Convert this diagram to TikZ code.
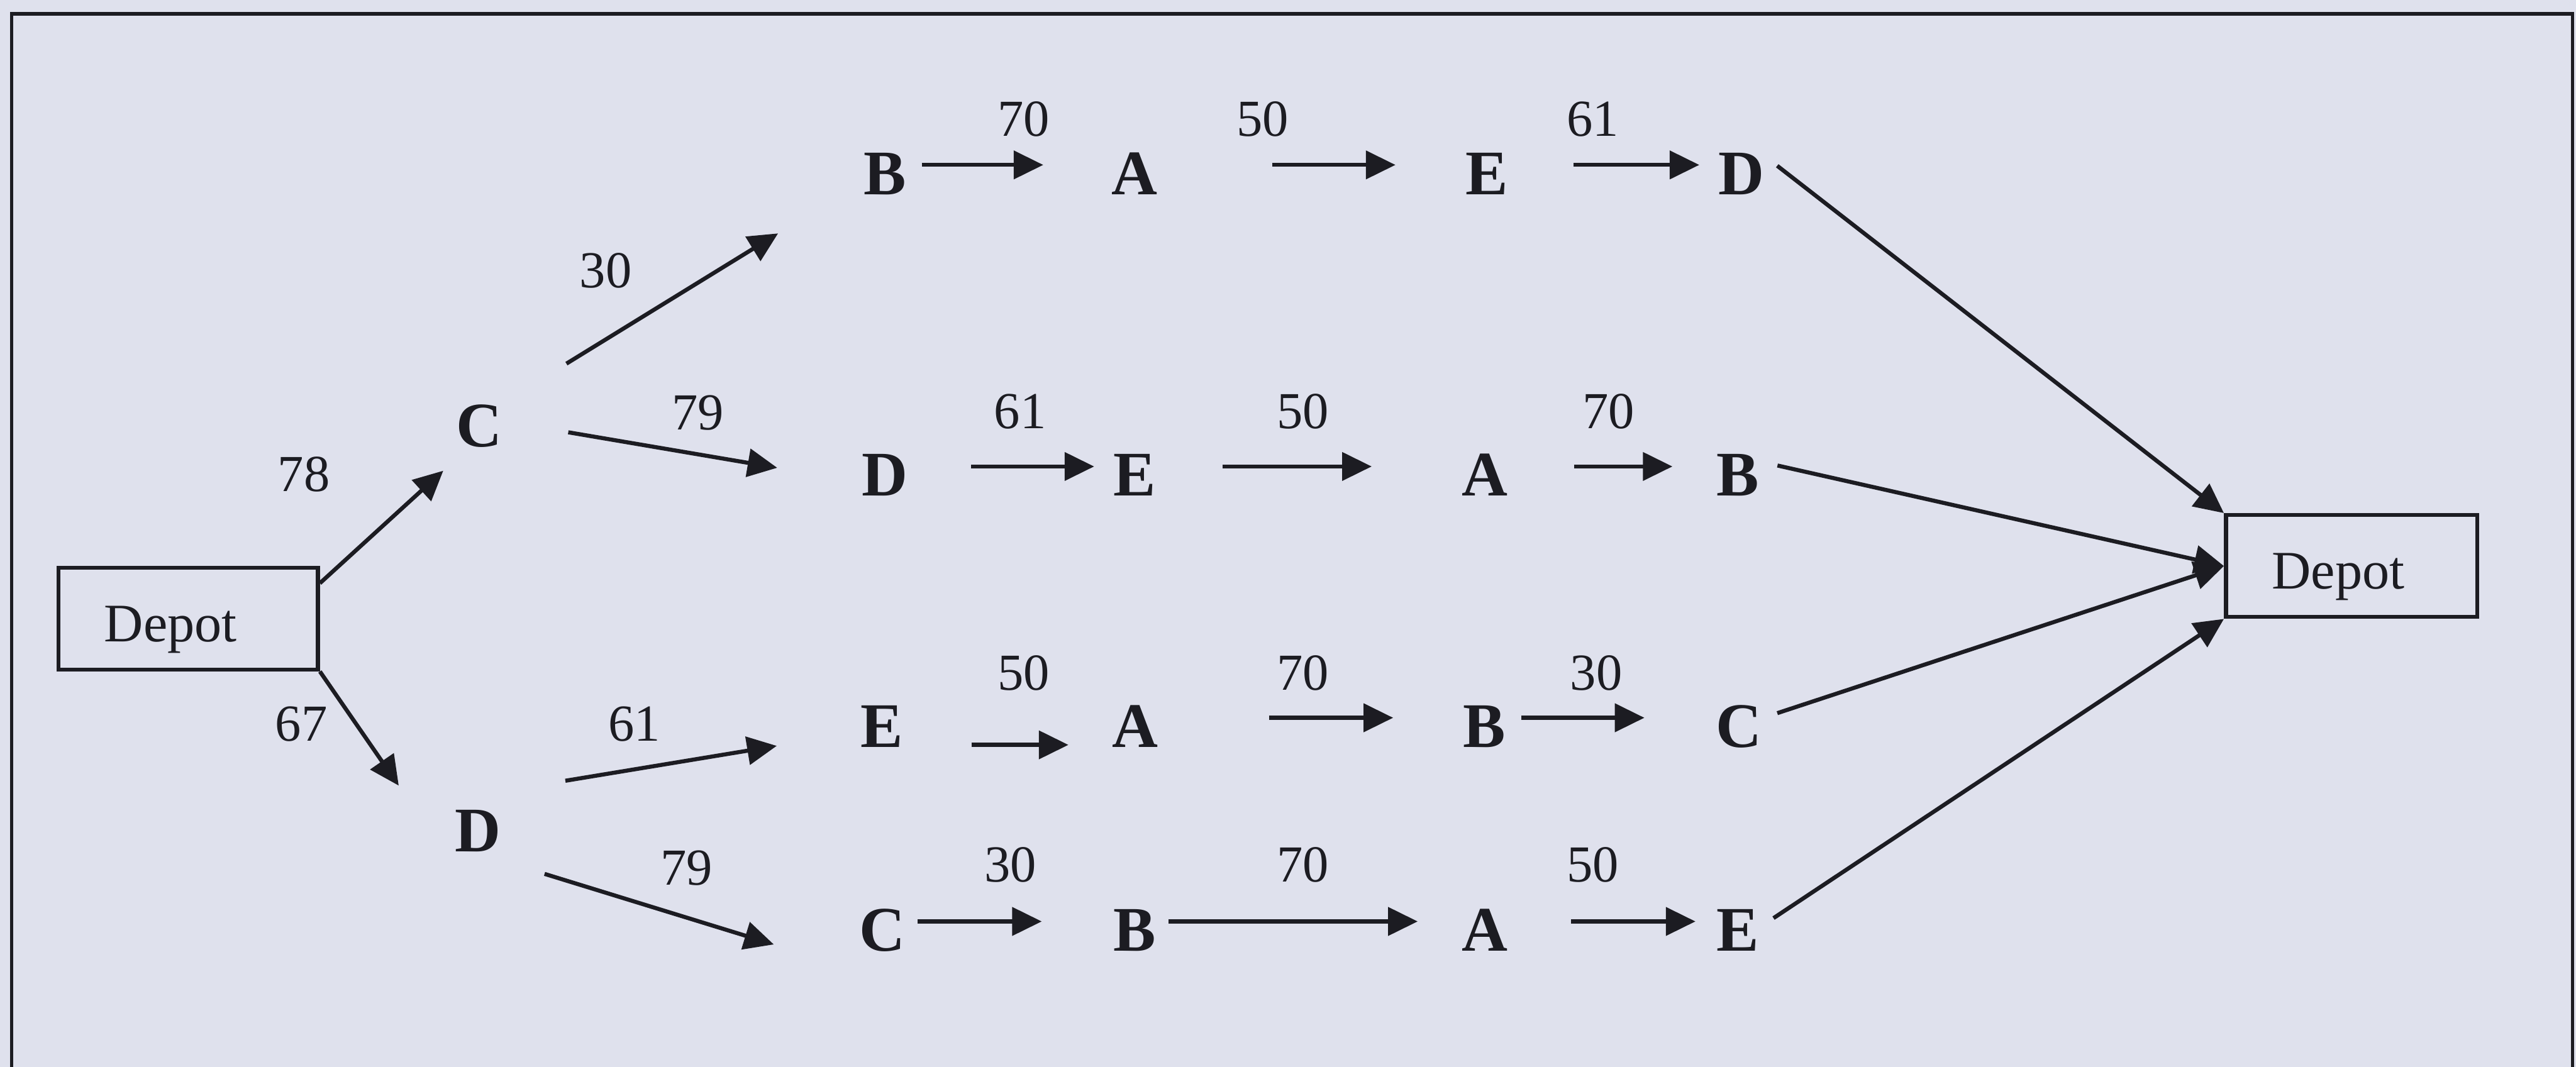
\documentclass[tikz,border=0pt]{standalone}
\usepackage{fontspec}
\setmainfont{Liberation Serif}
\usetikzlibrary{arrows.meta}
\definecolor{paper}{RGB}{223,225,237}
\definecolor{ink}{RGB}{28,28,34}

\begin{document}
\begin{tikzpicture}[
  city/.style={font=\bfseries\fontsize{11}{13}\selectfont, text=ink, inner sep=0pt, text height=3.6mm, text depth=0pt},
  cost/.style={font=\fontsize{9}{11}\selectfont, text=ink, inner sep=0pt, anchor=base},
  depot/.style={draw=ink, line width=0.7pt, font=\fontsize{9.4}{11}\selectfont, text=ink, align=left,
    inner xsep=2.8mm, inner ysep=0pt, text height=4.5mm, text depth=1.7mm},
  route/.style={draw=ink, line width=0.7pt, -{Triangle[length=1.8mm,width=1.7mm]}},
  gap/.style 2 args={shorten <=#1, shorten >=#2}
]
  \useasboundingbox[fill=paper] (0,0) rectangle (15.68,-6.496);
  % frame, open at the bottom
  \draw[ink, line width=0.6pt] (0.071,-6.496) -- (0.071,-0.084) -- (15.659,-0.084) -- (15.659,-6.496);

  % depots
  \node[depot, text width=10.2mm] (depL) at (1.145,-3.766) {Depot};
  \node[depot, text width=9.7mm] (depR) at (14.314,-3.446) {Depot};

  % first stop
  \node[city] (c) at (2.918,-2.54) {C};
  \node[city] (d) at (2.91,-5.004) {D};
  \coordinate (cIn) at (2.698,-2.866);
  \coordinate (dIn) at (2.427,-4.783);
  \draw[route] ([yshift=-1.07mm]depL.north east) -- (cIn);
  \draw[route] (depL.south east) -- (dIn);
  \node[cost] (w78) at (1.85,-2.99) {78};
  \node[cost] (w67) at (1.834,-4.51) {67};

  % branches
  \coordinate (b1In) at (4.736,-1.421);
  \coordinate (d2In) at (4.731,-2.848);
  \coordinate (e3In) at (4.728,-4.541);
  \coordinate (c4In) at (4.71,-5.75);
  \draw[route, shorten <=4.5mm] (c) -- (b1In);
  \draw[route, shorten <=4mm] (c) -- (d2In);
  \draw[route, shorten <=3.9mm] (d.north east) -- (e3In);
  \draw[route, shorten <=2.7mm] ([yshift=-0.5mm]d.south east) -- (c4In);
  \node[cost] (w30) at (3.687,-1.75) {30};
  \node[cost] (w79a) at (4.247,-2.616) {79};
  \node[cost] (w61) at (3.86,-4.513) {61};
  \node[cost] (w79b) at (4.18,-5.388) {79};

  % route 1
  \node[city] (b1) at (5.385,-1.004) {B};
  \node[city] (a1) at (6.907,-1.004) {A};
  \node[city] (e1) at (9.05,-1.004) {E};
  \node[city] (d1) at (10.60,-1.004) {D};
  \draw[route, gap={0.9mm}{4.1mm}] (b1) -- (a1);
  \draw[route, gap={6.9mm}{4.2mm}] (a1) -- (e1);
  \draw[route, gap={3.9mm}{1.1mm}] (e1) -- (d1);
  \node[cost] (w1a) at (6.23,-0.83) {70};
  \node[cost] (w1b) at (7.686,-0.83) {50};
  \node[cost] (w1c) at (9.695,-0.83) {61};

  % route 2
  \node[city] (d2) at (5.385,-2.84) {D};
  \node[city] (e2) at (6.906,-2.84) {E};
  \node[city] (a2) at (9.036,-2.84) {A};
  \node[city] (b2) at (10.576,-2.84) {B};
  \draw[route, gap={3.8mm}{1.1mm}] (d2) -- (e2);
  \draw[route, gap={4mm}{5.4mm}] (e2) -- (a2);
  \draw[route, gap={4mm}{2.6mm}] (a2) -- (b2);
  \node[cost] (w2a) at (6.21,-2.61) {61};
  \node[cost] (w2b) at (7.93,-2.61) {50};
  \node[cost] (w2c) at (9.79,-2.61) {70};

  % route 3
  \node[city] (e3) at (5.367,-4.37) {E};
  \node[city] (a3) at (6.91,-4.37) {A};
  \node[city] (b3) at (9.036,-4.37) {B};
  \node[city] (c3) at (10.586,-4.37) {C};
  \draw[route, gap={4.1mm}{2.6mm}] ([yshift=-1.65mm]e3.east) -- ([yshift=-1.65mm]a3.west);
  \draw[route, gap={6.7mm}{4.2mm}] (a3) -- (b3);
  \draw[route, gap={0.9mm}{4.3mm}] (b3) -- (c3);
  \node[cost] (w3a) at (6.23,-4.2) {50};
  \node[cost] (w3b) at (7.93,-4.2) {70};
  \node[cost] (w3c) at (9.716,-4.2) {30};

  % route 4
  \node[city] (c4) at (5.37,-5.61) {C};
  \node[city] (b4) at (6.907,-5.61) {B};
  \node[city] (a4) at (9.036,-5.61) {A};
  \node[city] (e4) at (10.576,-5.61) {E};
  \draw[route, gap={0.7mm}{4.3mm}] (c4) -- (b4);
  \draw[route, gap={0.7mm}{2.6mm}] (b4) -- (a4);
  \draw[route, gap={3.8mm}{1.2mm}] (a4) -- (e4);
  \node[cost] (w4a) at (6.15,-5.37) {30};
  \node[cost] (w4b) at (7.93,-5.37) {70};
  \node[cost] (w4c) at (9.695,-5.37) {50};

  % back to the depot
  \draw[route, shorten <=0.9mm] ([yshift=0.5mm]d1.east) -- (depR.north west);
  \draw[route, shorten <=1.1mm] ([yshift=0.3mm]b2.east) -- (depR.west);
  \draw[route, shorten <=0.9mm] (c3.east) -- (depR.west);
  \draw[route, shorten <=1mm] ([yshift=-0.35mm]e4.east) -- (depR.south west);
\end{tikzpicture}
\end{document}
